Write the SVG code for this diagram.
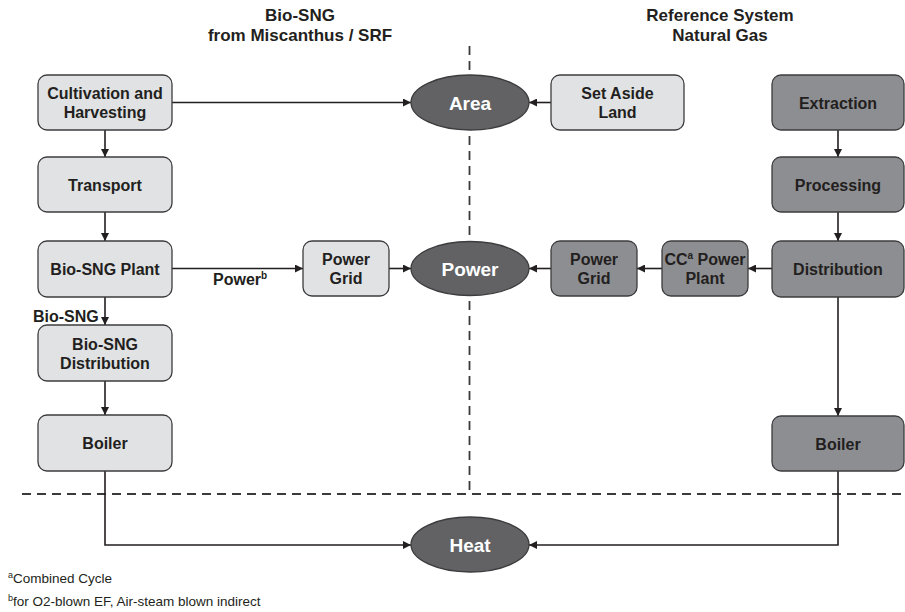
<svg xmlns="http://www.w3.org/2000/svg" width="905" height="612" viewBox="0 0 905 612">
<style>
.light{fill:#e1e2e4;stroke:#3c3c3e;stroke-width:1.3}
.dark{fill:#8d8e91;stroke:#3c3c3e;stroke-width:1.3}
.ell{fill:#626265;stroke:#3c3c3e;stroke-width:1.3}
.t{font-family:"Liberation Sans",Arial,sans-serif;font-weight:bold;font-size:16px;fill:#231f20;text-anchor:middle}
.et{font-family:"Liberation Sans",Arial,sans-serif;font-weight:bold;font-size:19px;fill:#ffffff;text-anchor:middle}
.title{font-family:"Liberation Sans",Arial,sans-serif;font-weight:bold;font-size:17px;fill:#231f20;text-anchor:middle}
.fn{font-family:"Liberation Sans",Arial,sans-serif;font-size:13.5px;fill:#231f20}
.c{fill:none;stroke:#231f20;stroke-width:1.6}
.dash{fill:none;stroke:#3a3a3a;stroke-width:1.8;stroke-dasharray:9 6}
</style>
<defs>
<marker id="ah" viewBox="0 0 10 10" refX="10" refY="5" markerWidth="8" markerHeight="8" markerUnits="userSpaceOnUse" orient="auto">
<path d="M0,0 L10,5 L0,10 z" fill="#231f20"/>
</marker>
</defs>
<rect width="905" height="612" fill="#ffffff"/>

<g id="titles">
<text class="title" x="300" y="21">Bio-SNG</text>
<text class="title" x="300" y="41">from Miscanthus / SRF</text>
<text class="title" x="720" y="21">Reference System</text>
<text class="title" x="720" y="41">Natural Gas</text>
</g>

<g id="dividers">
<line class="dash" x1="469.5" y1="46" x2="469.5" y2="491"/>
<line class="dash" x1="22" y1="494" x2="905" y2="494"/>
</g>

<g id="connectors">
<line class="c" x1="172" y1="102.5" x2="411" y2="102.5" marker-end="url(#ah)"/>
<line class="c" x1="551" y1="102.5" x2="529" y2="102.5" marker-end="url(#ah)"/>
<line class="c" x1="105" y1="130" x2="105" y2="157" marker-end="url(#ah)"/>
<line class="c" x1="105" y1="212" x2="105" y2="241" marker-end="url(#ah)"/>
<line class="c" x1="105" y1="297" x2="105" y2="325" marker-end="url(#ah)"/>
<line class="c" x1="105" y1="381" x2="105" y2="415" marker-end="url(#ah)"/>
<line class="c" x1="172" y1="268.5" x2="303" y2="268.5" marker-end="url(#ah)"/>
<line class="c" x1="389" y1="268.5" x2="411" y2="268.5" marker-end="url(#ah)"/>
<line class="c" x1="551" y1="268.5" x2="529" y2="268.5" marker-end="url(#ah)"/>
<line class="c" x1="662" y1="268.5" x2="637" y2="268.5" marker-end="url(#ah)"/>
<line class="c" x1="772" y1="268.5" x2="748" y2="268.5" marker-end="url(#ah)"/>
<line class="c" x1="838" y1="130" x2="838" y2="157" marker-end="url(#ah)"/>
<line class="c" x1="838" y1="212" x2="838" y2="241" marker-end="url(#ah)"/>
<line class="c" x1="838" y1="297" x2="838" y2="416" marker-end="url(#ah)"/>
<polyline class="c" points="105,471 105,545 411,545" marker-end="url(#ah)"/>
<polyline class="c" points="838,471 838,545 529,545" marker-end="url(#ah)"/>
<text class="t" x="33" y="322" style="text-anchor:start">Bio-SNG</text>
<text class="t" x="213" y="285" style="text-anchor:start">Power<tspan font-size="10" dy="-6">b</tspan></text>
</g>

<g id="cultivation">
<rect class="light" x="38" y="75" width="134" height="55" rx="9"/>
<text class="t" x="105" y="99">Cultivation and</text>
<text class="t" x="105" y="118">Harvesting</text>
</g>
<g id="transport">
<rect class="light" x="38" y="157" width="134" height="55" rx="9"/>
<text class="t" x="105" y="190.5">Transport</text>
</g>
<g id="biosng-plant">
<rect class="light" x="38" y="241" width="134" height="56" rx="9"/>
<text class="t" x="105" y="275">Bio-SNG Plant</text>
</g>
<g id="biosng-distribution">
<rect class="light" x="38" y="325" width="134" height="56" rx="9"/>
<text class="t" x="105" y="349.5">Bio-SNG</text>
<text class="t" x="105" y="368.5">Distribution</text>
</g>
<g id="boiler-left">
<rect class="light" x="38" y="415" width="134" height="56" rx="9"/>
<text class="t" x="105" y="449">Boiler</text>
</g>
<g id="power-grid-left">
<rect class="light" x="303" y="241" width="86" height="55" rx="9"/>
<text class="t" x="346" y="265">Power</text>
<text class="t" x="346" y="284">Grid</text>
</g>

<g id="area">
<ellipse class="ell" cx="470" cy="102.5" rx="59" ry="27.5"/>
<text class="et" x="470" y="109.5">Area</text>
</g>
<g id="power">
<ellipse class="ell" cx="470" cy="268.5" rx="59" ry="27"/>
<text class="et" x="470" y="275.5">Power</text>
</g>
<g id="heat">
<ellipse class="ell" cx="470" cy="544.5" rx="59" ry="27.5"/>
<text class="et" x="470" y="551.5">Heat</text>
</g>

<g id="set-aside-land">
<rect class="light" x="551" y="75" width="133" height="55" rx="9"/>
<text class="t" x="617.5" y="99">Set Aside</text>
<text class="t" x="617.5" y="118">Land</text>
</g>
<g id="power-grid-right">
<rect class="dark" x="551" y="241" width="86" height="55" rx="9"/>
<text class="t" x="594" y="265">Power</text>
<text class="t" x="594" y="284">Grid</text>
</g>
<g id="cc-power-plant">
<rect class="dark" x="662" y="241" width="86" height="55" rx="9"/>
<text class="t" x="705" y="265">CC<tspan font-size="10" dy="-6">a</tspan><tspan dy="6"> Power</tspan></text>
<text class="t" x="705" y="284">Plant</text>
</g>
<g id="extraction">
<rect class="dark" x="772" y="75" width="132" height="55" rx="9"/>
<text class="t" x="838" y="108.5">Extraction</text>
</g>
<g id="processing">
<rect class="dark" x="772" y="157" width="132" height="55" rx="9"/>
<text class="t" x="838" y="190.5">Processing</text>
</g>
<g id="distribution">
<rect class="dark" x="772" y="241" width="132" height="56" rx="9"/>
<text class="t" x="838" y="275">Distribution</text>
</g>
<g id="boiler-right">
<rect class="dark" x="772" y="416" width="132" height="55" rx="9"/>
<text class="t" x="838" y="449.5">Boiler</text>
</g>

<g id="footnotes">
<text class="fn" x="8" y="583"><tspan font-size="9" dy="-5">a</tspan><tspan dy="5">Combined Cycle</tspan></text>
<text class="fn" x="8" y="606"><tspan font-size="9" dy="-5">b</tspan><tspan dy="5">for O2-blown EF, Air-steam blown indirect</tspan></text>
</g>
</svg>
